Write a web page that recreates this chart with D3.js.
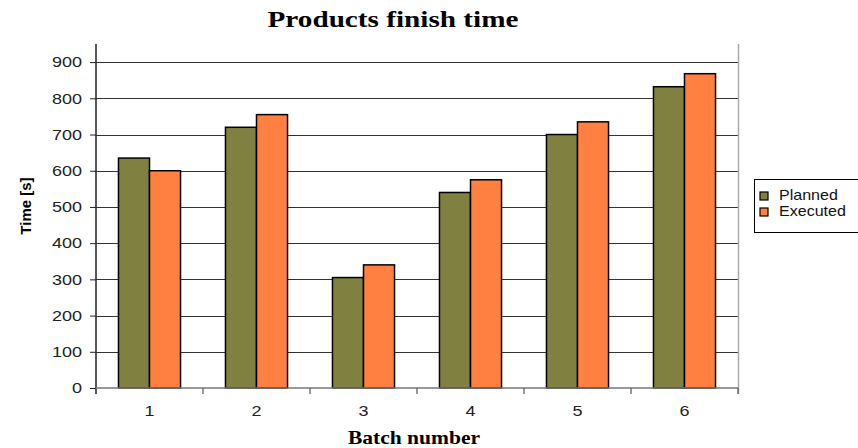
<!DOCTYPE html>
<html>
<head>
<meta charset="utf-8">
<script src="https://cdn.jsdelivr.net/npm/d3@7"></script>
<style>
  html, body { margin: 0; padding: 0; background: #fff; }
  svg { display: block; }
</style>
</head>
<body>
<svg id="chart" width="858" height="448"></svg>
<script>
// Batch finish times, planned vs. executed
const batches = ["1", "2", "3", "4", "5", "6"];
const planned = [635, 720, 305, 540, 700, 832];
const executed = [600, 755, 340, 575, 735, 868];
const seriesNames = ["Planned", "Executed"];
const yTicks = [0, 100, 200, 300, 400, 500, 600, 700, 800, 900];

const colors = { Planned: "#808040", Executed: "#ff8040" };
const sans = "'Liberation Sans', Arial, sans-serif";
const serif = "'Liberation Serif', 'Times New Roman', serif";

// widen sans labels slightly (the face is rendered a little broad)
function widen(sel, k) {
  sel.each(function () {
    const w = this.getComputedTextLength();
    d3.select(this).attr("textLength", w * k).attr("lengthAdjust", "spacingAndGlyphs");
  });
}

const svg = d3.select("#chart");
const plot = { left: 96, right: 738, top: 44, bottom: 388 };

const x0 = d3.scaleBand().domain(batches).range([plot.left, plot.right])
  .paddingInner(0.42).paddingOuter(0.21);
const x1 = d3.scaleBand().domain(seriesNames).range([0, x0.bandwidth()]);
const y = d3.scaleLinear().domain([0, 950]).range([plot.bottom, plot.top]);

// horizontal gridlines
svg.append("g").selectAll("line").data(yTicks.filter(d => d > 0)).join("line")
  .attr("x1", plot.left).attr("x2", plot.right)
  .attr("y1", d => Math.round(y(d)) + 0.5).attr("y2", d => Math.round(y(d)) + 0.5)
  .attr("stroke", "#333").attr("stroke-width", 1);

// right border of plot area
svg.append("line").attr("x1", plot.right + 0.5).attr("x2", plot.right + 0.5)
  .attr("y1", plot.top).attr("y2", plot.bottom + 6)
  .attr("stroke", "#aaa").attr("stroke-width", 1.5);

// bars
const rows = batches.map((b, i) => ({ batch: b, values: [
  { key: "Planned", value: planned[i] },
  { key: "Executed", value: executed[i] }
]}));

svg.append("g").selectAll("g").data(rows).join("g")
  .attr("transform", d => `translate(${x0(d.batch)},0)`)
  .selectAll("rect").data(d => d.values).join("rect")
  .attr("x", d => x1(d.key))
  .attr("y", d => y(d.value))
  .attr("width", x1.bandwidth())
  .attr("height", d => y(0) - y(d.value))
  .attr("fill", d => colors[d.key])
  .attr("stroke", "#000").attr("stroke-width", 1.5);

// y axis
const yAxis = svg.append("g").attr("transform", `translate(${plot.left},0)`)
  .call(d3.axisLeft(y).tickValues(yTicks).tickSize(6).tickPadding(8).tickFormat(d3.format("d")));
yAxis.select(".domain").attr("d", `M0,${plot.top}V${plot.bottom + 6}`).attr("stroke", "#222").attr("stroke-width", 1.5);
yAxis.selectAll(".tick line").attr("stroke", "#222");
yAxis.selectAll(".tick text").attr("font-family", sans).attr("font-size", 15).attr("fill", "#222")
  .call(widen, 1.2);

// x axis: labels at band centres, ticks at band boundaries
const xAxis = svg.append("g").attr("transform", `translate(0,${plot.bottom})`)
  .call(d3.axisBottom(x0).tickSize(0).tickPadding(17));
xAxis.select(".domain").attr("d", `M${plot.left},0H${plot.right}`).attr("stroke", "#777").attr("stroke-width", 1.5);
xAxis.selectAll(".tick text").attr("font-family", sans).attr("font-size", 15).attr("fill", "#222")
  .call(widen, 1.2);
const bounds = batches.map(b => x0(b) - x0.step() * x0.paddingInner() / 2).concat([plot.right]);
xAxis.append("g").selectAll("line").data(bounds.slice(1)).join("line")
  .attr("x1", d => d).attr("x2", d => d).attr("y1", 0).attr("y2", 6)
  .attr("stroke", "#555").attr("stroke-width", 1.2);

// title
svg.append("text").attr("x", 393).attr("y", 27).attr("text-anchor", "middle")
  .attr("font-family", serif).attr("font-weight", "bold").attr("font-size", 23)
  .attr("textLength", 251).attr("lengthAdjust", "spacingAndGlyphs")
  .text("Products finish time");

// axis titles
svg.append("text").attr("x", 414).attr("y", 444).attr("text-anchor", "middle")
  .attr("font-family", serif).attr("font-weight", "bold").attr("font-size", 19)
  .attr("textLength", 132).attr("lengthAdjust", "spacingAndGlyphs")
  .text("Batch number");

svg.append("text").attr("transform", "translate(31,206) rotate(-90)")
  .attr("text-anchor", "middle")
  .attr("font-family", sans).attr("font-weight", "bold").attr("font-size", 15)
  .text("Time [s]");

// legend
const legend = svg.append("g");
legend.append("rect").attr("x", 754.5).attr("y", 179.5).attr("width", 110).attr("height", 53)
  .attr("fill", "#fff").attr("stroke", "#000").attr("stroke-width", 1);
const items = legend.selectAll("g.item").data(seriesNames).join("g")
  .attr("transform", (d, i) => `translate(760,${192 + i * 16})`);
items.append("rect").attr("width", 8).attr("height", 8)
  .attr("fill", d => colors[d]).attr("stroke", "#000").attr("stroke-width", 1.2);
items.append("text").attr("x", 19).attr("y", 8)
  .attr("font-family", sans).attr("font-size", 15).attr("fill", "#111")
  .text(d => d)
  .call(widen, 1.07);
</script>
</body>
</html>
